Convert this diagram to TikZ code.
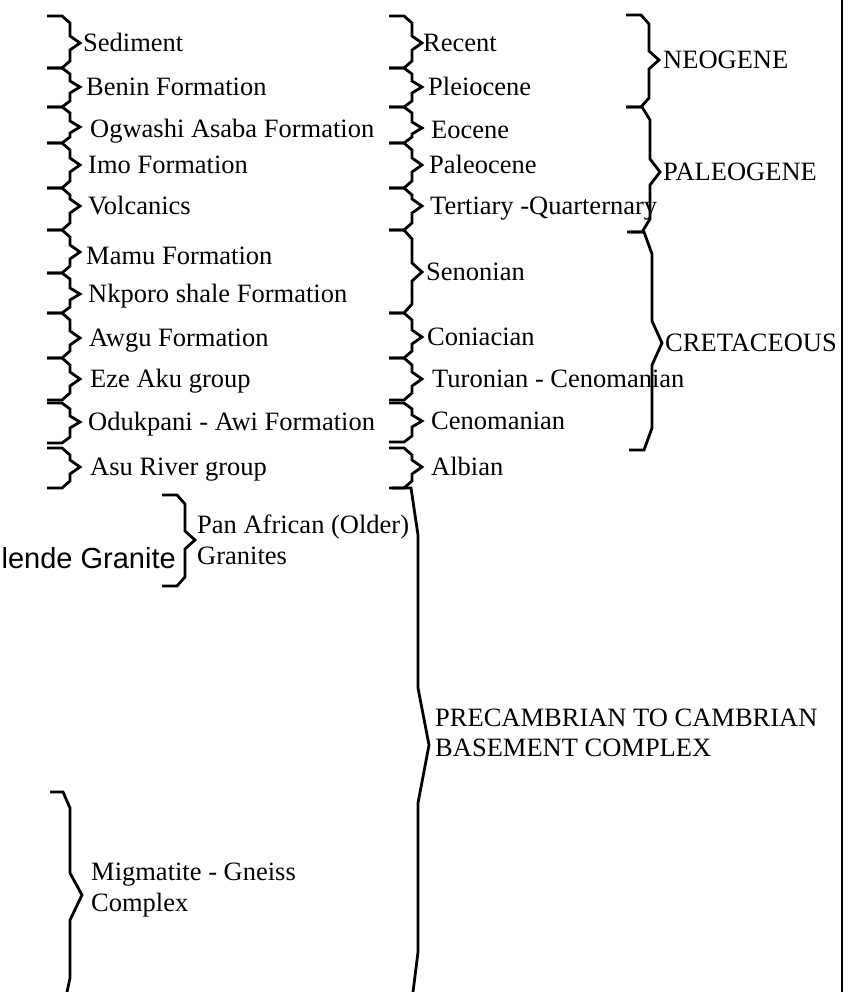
\documentclass[tikz,border=0pt]{standalone}
\usepackage{fontspec}
\setmainfont{Liberation Serif}
\newfontfamily\arialfont{Liberation Sans}
\usetikzlibrary{positioning}
\tikzset{brace line/.style={line width=2.8pt, line join=miter},
  unit label/.style={inner sep=0pt, anchor=west, text height=17.5pt, text depth=0pt,
    font=\fontsize{26.5}{30.5}\selectfont},
  block label/.style={inner sep=0pt, anchor=west, align=left,
    font=\fontsize{26.5}{30.5}\selectfont},}
% hook x, top, tip, bottom, bend
\newcommand{\geobrace}[6]{%
  \draw[brace line] (#2,#3) -- (#2+15,#3) -- (#2+23,#3+#6) -- (#2+23,#4-#6)
    -- (#2+33,#4) -- (#2+23,#4+#6) -- (#2+23,#5-#6) -- (#2+15,#5) -- (#2,#5);
  \coordinate (#1) at (#2+33,#4);}

\begin{document}
\begin{tikzpicture}[x=1pt,y=-1pt]
    \useasboundingbox (0,0) rectangle (850,992);

    % formations
    \geobrace{sedT}{47}{16}{43}{68}{7}
    \geobrace{benT}{47}{68}{87}{107}{6}
    \geobrace{ogwT}{47}{107}{127}{143}{6}
    \geobrace{imoT}{47}{143}{165}{188}{7}
    \geobrace{volT}{47}{188}{206}{230}{7}
    \geobrace{mamT}{47}{230}{252}{273}{7}
    \geobrace{nkpT}{47}{273}{294}{313}{6}
    \geobrace{awgT}{47}{313}{338}{358}{7}
    \geobrace{ezeT}{47}{358}{379}{400}{7}
    \geobrace{oduT}{47}{403}{422}{443}{6}
    \geobrace{asuT}{47}{448}{467}{488}{7}
    \node[unit label] (sediment) [right=3pt of sedT] {Sediment};
    \node[unit label] (benin) [right=6pt of benT] {Benin Formation};
    \node[unit label] (ogwashi) [right=10pt of ogwT, yshift=-2pt] {Ogwashi Asaba Formation};
    \node[unit label] (imo) [right=8pt of imoT] {Imo Formation};
    \node[unit label] (volcanics) [right=8pt of volT] {Volcanics};
    \node[unit label] (mamu) [right=6pt of mamT, yshift=-4pt] {Mamu Formation};
    \node[unit label] (nkporo) [right=8pt of nkpT] {Nkporo shale Formation};
    \node[unit label] (awgu) [right=9pt of awgT] {Awgu Formation};
    \node[unit label] (ezeaku) [right=10pt of ezeT] {Eze Aku group};
    \node[unit label] (odukpani) [right=8pt of oduT] {Odukpani - Awi Formation};
    \node[unit label] (asu) [right=10pt of asuT] {Asu River group};

    % ages
    \geobrace{recT}{389}{16}{43}{68}{7}
    \geobrace{pleT}{389}{68}{87}{107}{6}
    \geobrace{eocT}{389}{107}{128}{143}{6}
    \geobrace{palT}{389}{143}{165}{188}{7}
    \geobrace{terT}{389}{188}{206}{230}{7}
    \geobrace{senT}{389}{230}{272}{313}{9}
    \geobrace{conT}{389}{313}{337}{358}{7}
    \geobrace{turT}{389}{358}{379}{400}{7}
    \geobrace{cenT}{389}{403}{421}{442}{6}
    \geobrace{albT}{389}{448}{467}{488}{7}
    \node[unit label] (recent) [right=1pt of recT] {Recent};
    \node[unit label] (pleiocene) [right=6pt of pleT] {Pleiocene};
    \node[unit label] (eocene) [right=9pt of eocT, yshift=-2pt] {Eocene};
    \node[unit label] (paleocene) [right=7pt of palT] {Paleocene};
    \node[unit label] (tertiary) [right=8pt of terT] {Tertiary -Quarternary};
    \node[unit label] (senonian) [right=4pt of senT] {Senonian};
    \node[unit label] (coniacian) [right=5pt of conT] {Coniacian};
    \node[unit label] (turonian) [right=10pt of turT] {Turonian - Cenomanian};
    \node[unit label] (cenomanian) [right=9pt of cenT] {Cenomanian};
    \node[unit label] (albian) [right=9pt of albT] {Albian};

    % periods
    \geobrace{neoT}{626}{15}{60}{107}{9}
    \geobrace{paleoT}{627}{107}{172}{232}{13}
    \geobrace{cretT}{629}{232}{343}{450}{22}
    \node[unit label] (neogene) [right=4pt of neoT] {NEOGENE};
    \node[unit label] (paleogene) [right=3pt of paleoT] {PALEOGENE};
    \node[unit label] (cretaceous) [right=3pt of cretT] {CRETACEOUS};

    % basement
    \geobrace{panT}{162}{495}{540}{586}{9}
    \node[block label] (panafrican) [right=2pt of panT] {Pan African (Older)\\Granites};
    \node[inner sep=0pt, anchor=east, font=\arialfont\fontsize{29}{34}\selectfont]
      (hornblende) at (176,558) {lende Granite};
    \draw[brace line] (392,488) -- (411,488) -- (418,535) -- (418,688) -- (429,745)
      -- (418,803) -- (418,952) -- (413,992);
    \coordinate (preT) at (429,745);
    \node[block label] (precambrian) [right=6pt of preT, yshift=12pt]
      {PRECAMBRIAN TO CAMBRIAN\\BASEMENT COMPLEX};
    \draw[brace line] (50,792) -- (63,792) -- (70,808) -- (70,873) -- (82,895)
      -- (70,920) -- (70,978) -- (67,992);
    \coordinate (migT) at (82,895);
    \node[block label] (migmatite) [right=9pt of migT, yshift=5pt]
      {Migmatite - Gneiss\\Complex};

    \draw[line width=2.2pt] (842,0) -- (842,992);
\end{tikzpicture}
\end{document}
